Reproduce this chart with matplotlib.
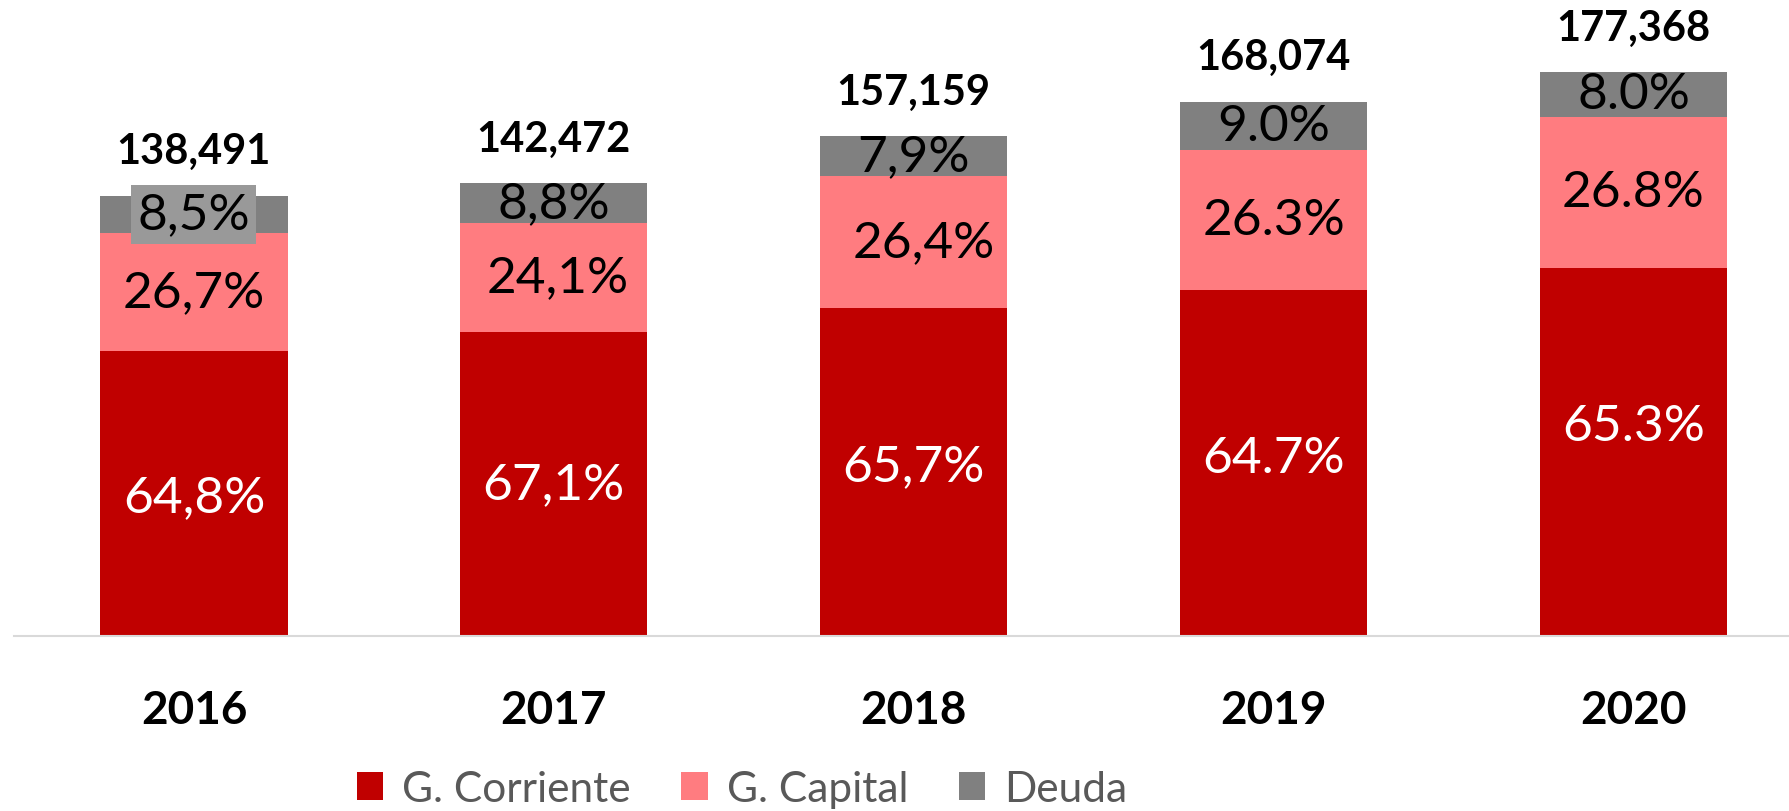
import numpy as np
import matplotlib
matplotlib.use('Agg')
import matplotlib.pyplot as plt

years = ['2016', '2017', '2018', '2019', '2020']
totals = [138491, 142472, 157159, 168074, 177368]
corriente_pct = [64.8, 67.1, 65.7, 64.7, 65.3]
capital_pct = [26.7, 24.1, 26.4, 26.3, 26.8]
deuda_pct = [8.5, 8.8, 7.9, 9.0, 8.0]
decimal_marks = [',', ',', ',', '.', '.']
series_names = ['G. Corriente', 'G. Capital', 'Deuda']

RED = '#C00000'
PINK = '#FF7C80'
GRAY = '#808080'

plt.rcParams.update({
    'font.family': ['Lato', 'DejaVu Sans'],
})

fig = plt.figure(figsize=(17.9, 8.12), dpi=100)
# axes: left edge 14px, baseline 175px from bottom, up to top of figure
ax = fig.add_axes([14 / 1790, 175 / 812, 1 - 14 / 1790, 637 / 812])

x = np.arange(len(years))
totals_a = np.array(totals, dtype=float)
corr = totals_a * np.array(corriente_pct) / 100
cap = totals_a * np.array(capital_pct) / 100
deu = totals_a * np.array(deuda_pct) / 100

width = 0.52
b1 = ax.bar(x, corr, width, color=RED, label=series_names[0], zorder=2)
b2 = ax.bar(x, cap, width, bottom=corr, color=PINK, label=series_names[1], zorder=2)
b3 = ax.bar(x, deu, width, bottom=corr + cap, color=GRAY, label=series_names[2], zorder=2)


def fmt(v, mark):
    return '{:.1f}%'.format(v).replace('.', mark)


# small manual nudges (points), like the hand-placed labels in the original
red_nudge = {0: -3, 2: 4, 3: 4, 4: 19}
pink_nudge_x = {1: 3, 2: 7}

for i in range(len(years)):
    ax.annotate(fmt(corriente_pct[i], decimal_marks[i]), xy=(x[i], corr[i] / 2),
                xytext=(0, red_nudge.get(i, 0)), textcoords='offset points',
                ha='center', va='center', fontsize=37, color='white', zorder=3)
    ax.annotate(fmt(capital_pct[i], decimal_marks[i]), xy=(x[i], corr[i] + cap[i] / 2),
                xytext=(pink_nudge_x.get(i, 0), 0), textcoords='offset points',
                ha='center', va='center', fontsize=37, color='black', zorder=3)
    box = None
    if i == 0:
        box = dict(boxstyle='square,pad=0.12', facecolor='#999999', edgecolor='none')
    ax.text(x[i], corr[i] + cap[i] + deu[i] / 2, fmt(deuda_pct[i], decimal_marks[i]),
            ha='center', va='center', fontsize=37, color='black', zorder=3, bbox=box)
    ax.annotate('{:,}'.format(totals[i]), xy=(x[i], totals[i]), xytext=(0, 32),
                textcoords='offset points', ha='center', va='center',
                fontsize=30, fontweight='bold', color='black')

ax.set_xlim(-0.5, 4.435)
ax.set_ylim(0, 200400)

for s in ['top', 'right', 'left']:
    ax.spines[s].set_visible(False)
ax.spines['bottom'].set_color('#D9D9D9')
ax.spines['bottom'].set_linewidth(1.5)
ax.set_yticks([])
ax.set_xticks(x)
ax.set_xticklabels(years, fontsize=33, fontweight='bold')
ax.tick_params(axis='x', length=0, pad=38)

leg = fig.legend(handles=[b1, b2, b3], loc='center', bbox_to_anchor=(742 / 1790, 1 - 790 / 812),
                 ncol=3, frameon=False, fontsize=30.5, handlelength=0.62, handleheight=0.62,
                 handletextpad=0.45, columnspacing=1.2, labelcolor='#595959')

fig.savefig('out.png', dpi=100)
